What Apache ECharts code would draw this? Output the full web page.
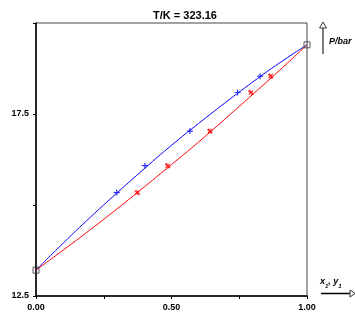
<!DOCTYPE html>
<html><head><meta charset="utf-8">
<script src="https://cdn.jsdelivr.net/npm/echarts@6/dist/echarts.min.js"></script>
<style>html,body{margin:0;padding:0;background:#fff}#c{width:355px;height:321px}</style>
</head><body><div id="c"></div>
<script>
// Bubble curve (x1) and dew curve (y1), P in bar
const curveX = [0, 0.1, 0.2, 0.3, 0.4, 0.5, 0.6, 0.7, 0.8, 0.9, 1.0];
const bubbleP = [13.21, 13.95, 14.66, 15.34, 16.00, 16.64, 17.24, 17.82, 18.38, 18.91, 19.40];
const dewP = [13.21, 13.76, 14.32, 14.90, 15.50, 16.11, 16.73, 17.38, 18.04, 18.71, 19.40];
// Experimental points
const expX1 = [0.298, 0.402, 0.568, 0.744, 0.827];
const expY1 = [0.374, 0.486, 0.642, 0.793, 0.866];
const expP = [15.34, 16.08, 17.03, 18.09, 18.54];
// Pure-component end points
const endX = [0, 1];
const endP = [13.21, 19.40];
const xTickLabels = ['0.00', '0.50', '1.00'];
const yTickLabels = ['12.5', '17.5'];
const title = 'T/K = 323.16';

const chart = echarts.init(document.getElementById('c'));
const fam = '"Liberation Sans", Arial, sans-serif';
const plus = 'path://M4,0H6V4H10V6H6V10H4V6H0V4H4Z';
const cross = 'path://M3,0H7V4H10V6H7V10H3V6H0V4H3Z';
chart.setOption({
  animation: false,
  title: { text: title, left: 180, top: 5, textAlign: 'center',
    textStyle: { fontFamily: fam, fontSize: 11, fontWeight: 'bold', color: '#000' } },
  grid: { left: 36, right: 48, top: 23, bottom: 25, show: true, borderColor: '#444', borderWidth: 1 },
  xAxis: { type: 'value', min: 0, max: 1, interval: 0.25,
    axisLine: { lineStyle: { color: '#000', width: 1.5 } },
    axisTick: { length: 3, lineStyle: { color: '#000' } },
    splitLine: { show: false },
    axisLabel: { margin: 7, fontFamily: fam, fontSize: 9, fontWeight: 'bold', color: '#000',
      formatter: v => { const s = v.toFixed(2); return xTickLabels.includes(s) ? s : ''; } } },
  yAxis: { type: 'value', min: 12.5, max: 20, interval: 2.5,
    axisLine: { show: true, lineStyle: { color: '#000', width: 1.5 } },
    axisTick: { show: true, length: 3, lineStyle: { color: '#000' } },
    splitLine: { show: false },
    axisLabel: { margin: 7, fontFamily: fam, fontSize: 9, fontWeight: 'bold', color: '#000',
      formatter: v => { const s = v.toFixed(1); return yTickLabels.includes(s) ? s : ''; } } },
  series: [
    { type: 'line', data: curveX.map((x, i) => [x, bubbleP[i]]), smooth: true, showSymbol: false,
      lineStyle: { color: '#0000ff', width: 1 }, z: 3 },
    { type: 'line', data: curveX.map((x, i) => [x, dewP[i]]), smooth: true, showSymbol: false,
      lineStyle: { color: '#ff0000', width: 1 }, z: 3 },
    { type: 'scatter', data: expX1.map((x, i) => [x, expP[i]]), symbol: plus, symbolSize: 6,
      itemStyle: { color: '#0000ff' }, z: 4 },
    { type: 'scatter', data: expY1.map((x, i) => [x, expP[i]]), symbol: cross, symbolSize: 6, symbolRotate: 45,
      itemStyle: { color: '#ff0000' }, z: 4 },
    { type: 'scatter', data: endX.map((x, i) => [x, endP[i]]), symbol: 'rect', symbolSize: 6,
      itemStyle: { color: 'rgba(255,255,255,0)', borderColor: '#333', borderWidth: 1 }, z: 5 }
  ],
  graphic: [
    { type: 'line', shape: { x1: 323, y1: 54, x2: 323, y2: 27 }, style: { stroke: '#555', lineWidth: 1.5 } },
    { type: 'polygon', shape: { points: [[323, 22], [319.5, 28], [326.5, 28]] }, style: { fill: '#fff', stroke: '#333', lineWidth: 1 } },
    { type: 'text', left: 329, top: 37, style: { text: 'P/bar', font: 'italic bold 9px ' + fam, fill: '#000' } },
    { type: 'line', shape: { x1: 321, y1: 293.5, x2: 351, y2: 293.5 }, style: { stroke: '#000', lineWidth: 1.5 } },
    { type: 'polygon', shape: { points: [[355, 293.5], [350, 290], [350, 297]] }, style: { fill: '#fff', stroke: '#333', lineWidth: 1 } },
    { type: 'text', left: 320, top: 277, style: {
      text: '{a|x}{as|1}{c|, }{b|y}{bs|1}',
      rich: {
        a: { fontFamily: fam, fontStyle: 'italic', fontWeight: 'bold', fontSize: 9, color: '#0000ff', verticalAlign: 'top', lineHeight: 12 },
        as: { fontFamily: fam, fontStyle: 'italic', fontWeight: 'bold', fontSize: 6, color: '#0000ff', verticalAlign: 'bottom', lineHeight: 12 },
        c: { fontFamily: fam, fontStyle: 'italic', fontWeight: 'bold', fontSize: 9, color: '#0000ff', verticalAlign: 'top', lineHeight: 12 },
        b: { fontFamily: fam, fontStyle: 'italic', fontWeight: 'bold', fontSize: 9, color: '#ff0000', verticalAlign: 'top', lineHeight: 12 },
        bs: { fontFamily: fam, fontStyle: 'italic', fontWeight: 'bold', fontSize: 6, color: '#ff0000', verticalAlign: 'bottom', lineHeight: 12 }
      } } }
  ]
});
</script></body></html>
